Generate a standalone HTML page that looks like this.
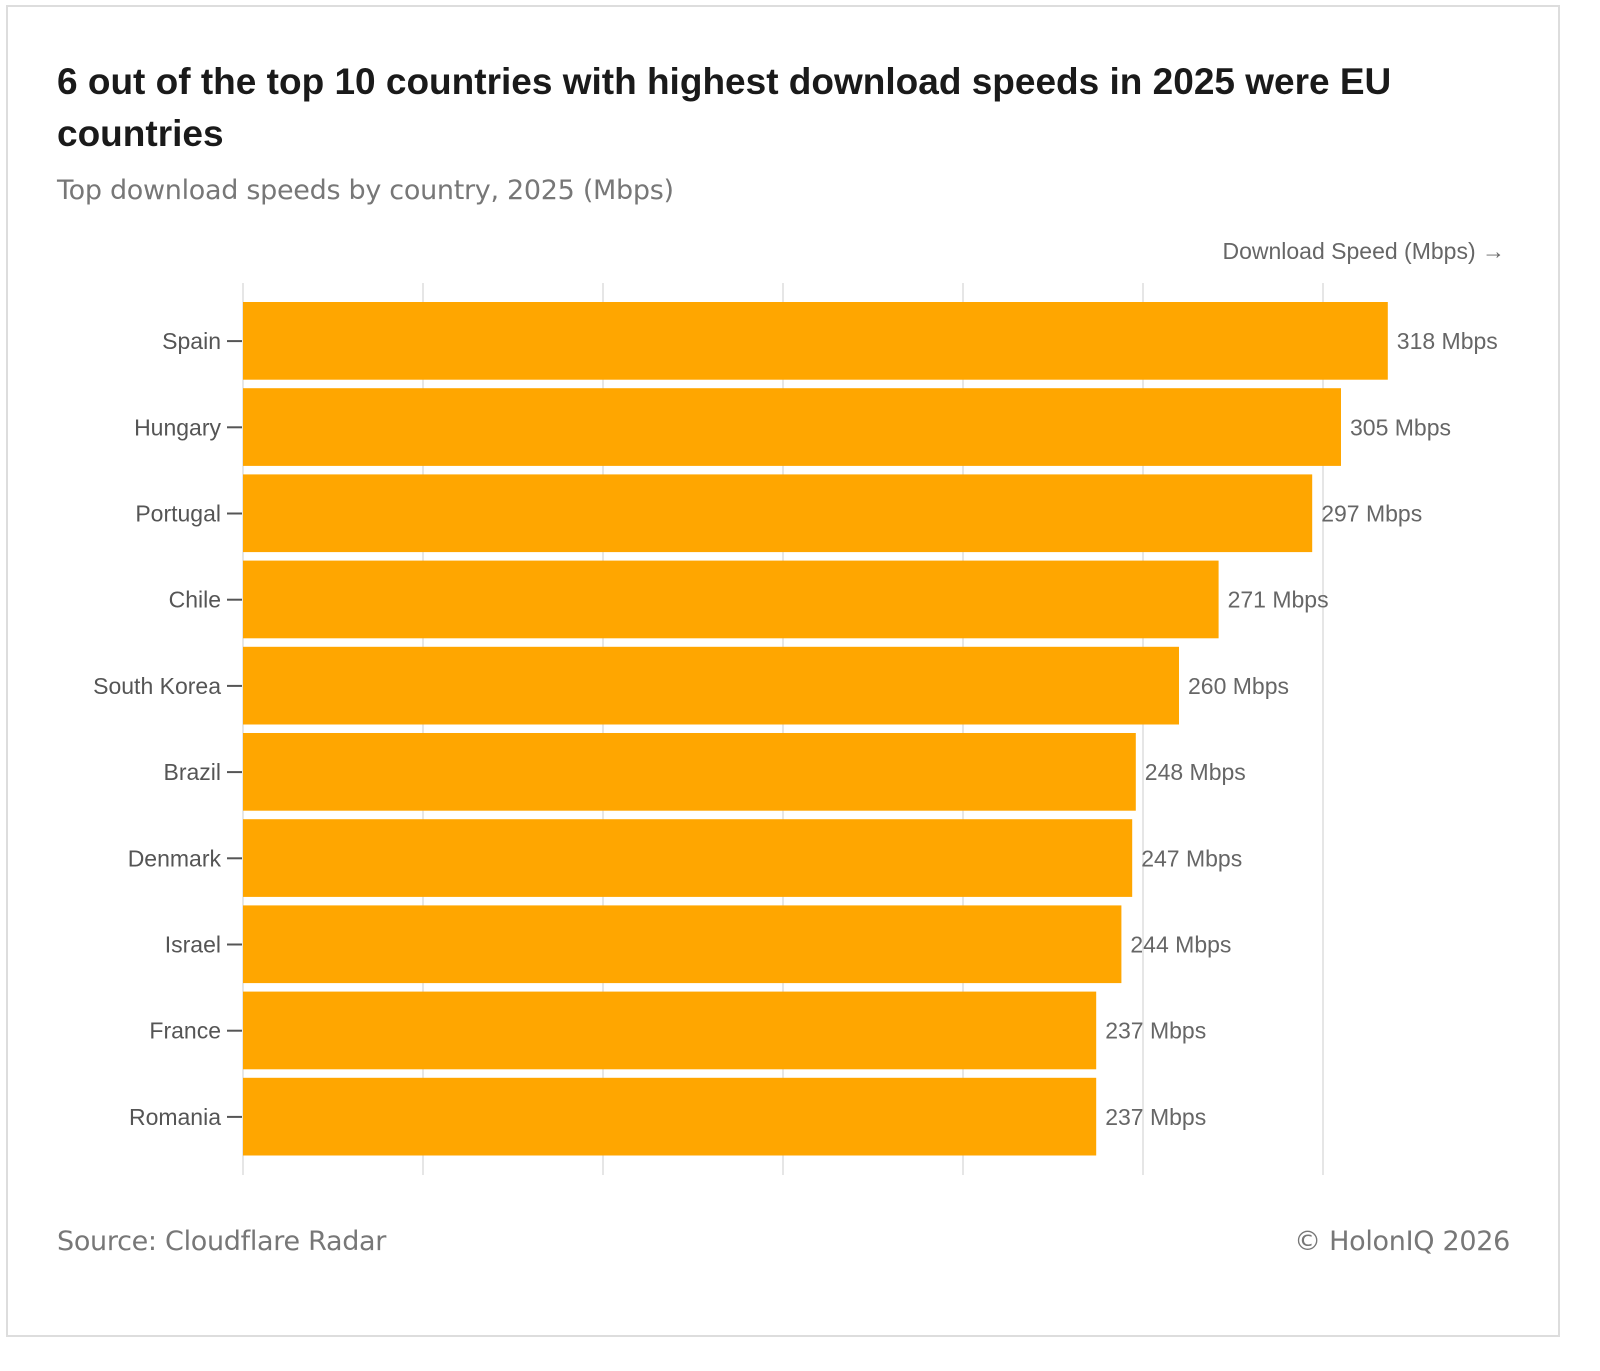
<!DOCTYPE html>
<html><head><meta charset="utf-8"><style>
body{margin:0;background:#fff;width:1600px;height:1371px;overflow:hidden;font-family:"Liberation Sans",sans-serif}
#frame{position:absolute;left:6px;top:5px;width:1554px;height:1332px;border:2px solid #ddd;box-sizing:border-box}
#title{position:absolute;left:57px;top:56px;width:1480px;font-size:37px;font-weight:bold;color:#1a1a1a;line-height:52px;font-family:"Liberation Sans",sans-serif;letter-spacing:0px}
#sub{position:absolute;left:57px;top:175px;font-size:27px;color:#777;font-family:"DejaVu Sans","Liberation Sans",sans-serif;letter-spacing:-0.3px}
#src{position:absolute;left:57px;top:1226px;font-size:27px;color:#777;font-family:"DejaVu Sans","Liberation Sans",sans-serif;letter-spacing:-0.3px}
#copy{position:absolute;right:90px;top:1226px;font-size:27px;color:#777;font-family:"DejaVu Sans","Liberation Sans",sans-serif;letter-spacing:-0.3px}
svg{position:absolute;left:0;top:0}
</style></head><body>
<div id="frame"></div>
<div id="title">6 out of the top 10 countries with highest download speeds in 2025 were EU countries</div>
<div id="sub">Top download speeds by country, 2025 (Mbps)</div>
<svg id="chart" width="1600" height="1371"></svg>
<div id="src">Source: Cloudflare Radar</div>
<div id="copy">© HolonIQ 2026</div>
<script>
const categories=["Spain","Hungary","Portugal","Chile","South Korea","Brazil","Denmark","Israel","France","Romania"];
const values=[318,305,297,271,260,248,247,244,237,237];
const ticks=[0,50,100,150,200,250,300];
const svg=document.getElementById('chart');
const NS='http://www.w3.org/2000/svg';
const x0=243,pxPer=3.6,top0=298,step=86.2,pad=4;
const x=v=>x0+v*pxPer;
const y=i=>top0+i*step;
function mk(t,a){const e=document.createElementNS(NS,t);for(const k in a)e.setAttribute(k,a[k]);svg.appendChild(e);return e;}
ticks.forEach(t=>{const g=mk('line',{x1:x(t),x2:x(t),y1:283,y2:1175,stroke:'#e6e6e6','stroke-width':2});

});
const at=mk('text',{x:1505,y:259,'text-anchor':'end','font-size':23,fill:'#666','font-family':'Liberation Sans, sans-serif'});
at.textContent='Download Speed (Mbps) →';


categories.forEach((c,i)=>{
 const yt=y(i)+pad, h=step-2*pad-0.5, cy=y(i)+step/2;
 const r=mk('rect',{x:x0,y:yt,width:x(values[i])-x0,height:h,fill:'#ffa600'});
 
 
 const tk=mk('line',{x1:227,x2:242,y1:cy,y2:cy,stroke:'#555','stroke-width':2});
 
 
 const l=mk('text',{x:221,y:cy+8,'text-anchor':'end','font-size':23,fill:'#555','font-family':'Liberation Sans, sans-serif'});
 l.textContent=c;
 
 
 const v=mk('text',{x:x(values[i])+9,y:cy+8,'font-size':23,fill:'#666','font-family':'Liberation Sans, sans-serif'});
 v.textContent=values[i]+' Mbps';
 
 
});
</script>
</body></html>
